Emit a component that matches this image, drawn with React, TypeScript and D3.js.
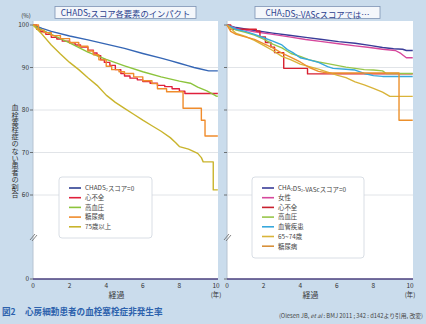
import React from "react";
import * as d3 from "d3";

type Pt = [number, number];

// ---------- data ----------
const yTicks = [100, 90, 80, 70, 60];
const xTicks = [0, 2, 4, 6, 8, 10];

const leftTitle = "CHADS2スコア各要素のインパクト";
const rightTitle = "CHA2DS2-VAScスコアでは…";
const yTitle = "血栓塞栓症のない患者の割合";

const L_score0: Pt[] = [[0,100],[0.5,99.2],[1,98.5],[2,97.4],[3,96.5],[4,95.5],[5,94.5],[6,93.3],[7,92.2],[7.5,91.6],[8,91],[8.5,90.4],[8.8,90],[9.1,89.7],[9.6,89.2],[10.1,89.2]];
const L_heart: Pt[] = [[0,100],[0.2,99],[0.4,98.4],[0.7,97.8],[1,97.1],[1.3,96.7],[1.6,96.2],[2,95.8],[2.3,95.3],[2.6,94.8],[3,94.1],[3.3,93.4],[3.5,92.8],[3.7,91.8],[3.9,91.2],[4.2,90.5],[4.5,89.5],[4.8,88.6],[5,88],[5.3,87.5],[5.7,87.1],[6,86.7],[6.4,86.3],[6.8,85.8],[7.2,85.5],[7.6,85],[8,84.4],[8.3,83.9],[10.1,83.9]];
const L_htn: Pt[] = [[0,100],[0.5,98.8],[1,97.8],[2,95.8],[3,93.6],[4,91.9],[5,90.4],[6,89],[7,87.8],[8,86.8],[8.6,86.3],[9,85.4],[9.5,84.5],[10,83.3],[10.1,83.2]];
const L_dm: Pt[] = [[0,100],[0.3,98.8],[0.6,98.2],[1,97.5],[1.5,96.8],[2,95.9],[2.5,95],[3,93.9],[3.3,93],[3.6,91.8],[4,90.3],[4.3,89.5],[4.7,89],[5,88.6],[5.5,87.8],[6,86.9],[6.5,86.2],[6.8,85],[7.3,84.3],[8.2,80.4],[9.2,77.6],[9.4,73.9],[10.1,73.9]];
const L_age75: Pt[] = [[0,100],[0.5,97.8],[1,95.3],[1.5,93.2],[2,91.2],[2.5,89.5],[3,87.6],[3.5,85.8],[4,83.5],[4.5,81.8],[5,80.4],[5.5,79],[6,77.6],[6.5,76.3],[7,75],[7.5,73.5],[7.8,72.3],[8,71.4],[8.5,70.8],[9,69.8],[9.2,68.8],[9.3,67.8],[9.85,67.8],[9.85,61.2],[10.1,61.2]];

const R_score0: Pt[] = [[0,100],[0.5,99.4],[1.5,98.7],[2.5,98.1],[3.4,97.6],[4.3,97.1],[5.2,96.6],[6.1,96.1],[7,95.7],[7.8,95.2],[8.5,94.7],[9.1,94.4],[9.6,94.3],[9.8,94],[10.15,94]];
const R_female: Pt[] = [[0,100],[0.5,99.2],[1.5,98.4],[2.5,97.8],[3.4,97.2],[4.3,96.6],[5.2,96.1],[6.1,95.6],[7,95.1],[7.8,94.7],[8.5,94.3],[9.2,94],[9.5,93.3],[9.8,92.3],[10.15,92.3]];
const R_heart: Pt[] = [[0,100],[0.2,99],[1.6,98.6],[1.8,97.2],[2.1,95.9],[2.4,94.8],[2.6,93.5],[3.1,89.8],[4.4,88.5],[10.15,88.5]];
const R_htn: Pt[] = [[0,100],[0.5,98.8],[1,98.3],[1.5,97.6],[2,96.7],[2.5,95.5],[3,94.6],[3.5,93.3],[4,92.6],[4.5,91.8],[5,91.3],[5.5,90.9],[6,90.5],[6.5,90.1],[7,89.8],[7.5,89.5],[8,89.4],[8.5,89.2],[8.7,88.6],[10.15,88.6]];
const R_vasc: Pt[] = [[0,100],[0.5,99],[1,98.5],[1.5,97.8],[2,97],[2.5,96.2],[3,95.3],[3.3,94.2],[3.6,93.5],[4,92.3],[4.5,91.8],[5,91.2],[5.5,90.2],[5.8,89.8],[6.5,89.6],[7,89.4],[7.5,88.6],[8,88.1],[8.5,87.9],[10.15,87.9]];
const R_age65: Pt[] = [[0,100],[0.5,98],[1,97.3],[1.5,96.4],[2,95.2],[2.5,94],[3,92.6],[3.5,91.8],[4,90.8],[4.5,90.2],[5,89.6],[5.5,88.9],[6,88.2],[6.5,87.6],[7,86.6],[7.5,85.9],[8,85.1],[8.5,84.2],[8.9,83.2],[10.15,83.2]];
const R_dm: Pt[] = [[0,100],[0.2,98.5],[0.5,97.8],[1,97.2],[1.5,96.6],[2,95.6],[2.5,94.6],[3,93.4],[3.5,92.4],[4,91.3],[4.5,90],[5,89.1],[5.5,88.7],[9.4,88.7],[9.4,77.6],[10.15,77.6]];

const leftLabels = ["CHADS2スコア=0", "心不全", "高血圧", "糖尿病", "75歳以上"];
const rightLabels = ["CHA2DS2-VAScスコア=0", "女性", "心不全", "高血圧", "血管疾患", "65~74歳", "糖尿病"];

const leftSeries = [
  { data: L_score0, color: "#3566b5", legend: "#2e3f92", step: false },
  { data: L_heart, color: "#e0203c", legend: "#e0203c", step: true },
  { data: L_htn, color: "#8cc43c", legend: "#8cc43c", step: false },
  { data: L_dm, color: "#f08c2c", legend: "#f08c2c", step: true },
  { data: L_age75, color: "#c9b42c", legend: "#c9b42c", step: false },
];
const rightSeries = [
  { data: R_score0, color: "#3a3c98", legend: "#3a3c98", step: false },
  { data: R_female, color: "#d6489c", legend: "#d6489c", step: false },
  { data: R_heart, color: "#d82030", legend: "#c8202e", step: true },
  { data: R_htn, color: "#98c64a", legend: "#98c64a", step: false },
  { data: R_vasc, color: "#38a8dc", legend: "#38a8dc", step: false },
  { data: R_age65, color: "#d9b43a", legend: "#d9b43a", step: false },
  { data: R_dm, color: "#ec902c", legend: "#d8903a", step: false },
];

const FONT = "'Noto Sans CJK JP', 'Noto Sans', sans-serif";
const BG = "#cadcec";

// Text with "2" after CHA / DS rendered as subscript
function SubText({ s, fs }: { s: string; fs: number }) {
  const parts: React.ReactNode[] = [];
  const re = /(CHA|DS)2/g;
  let last = 0;
  let m: RegExpExecArray | null;
  let k = 0;
  while ((m = re.exec(s))) {
    const end = m.index + m[1].length;
    parts.push(<tspan key={k++}>{s.slice(last, end)}</tspan>);
    parts.push(
      <tspan key={k++} fontSize={fs * 0.6} dy={fs * 0.15}>2</tspan>
    );
    parts.push(<tspan key={k++} dy={-fs * 0.15}></tspan>);
    last = end + 1;
  }
  parts.push(<tspan key={k++}>{s.slice(last)}</tspan>);
  return <>{parts}</>;
}

function Panel({ x0, x1, series, labels, showYLabels, legendBox }: any) {
  const top = 21, bottom = 279;
  const xs = d3.scaleLinear().domain([0, 10]).range([x0, x0 + 183]);
  const ys = d3.scaleLinear().domain([60, 100]).range([195, 25]);
  const line = d3.line<Pt>().x((d) => xs(d[0])).y((d) => ys(d[1]));
  const stepLine = d3.line<Pt>().x((d) => xs(d[0])).y((d) => ys(d[1])).curve(d3.curveStepAfter);
  const lx = legendBox.x, ly = legendBox.y;
  return (
    <g>
      <rect x={x0} y={top} width={x1 - x0} height={bottom - top} fill="#ffffff" />
      {yTicks.slice(1).map((t) => (
        <line key={t} x1={x0} x2={x1} y1={ys(t)} y2={ys(t)} stroke="#d9dde2" strokeWidth={0.8} />
      ))}
      <line x1={x0} x2={x0} y1={top} y2={bottom} stroke="#b7c4d2" strokeWidth={1} />
      {yTicks.map((t) => (
        <line key={"t" + t} x1={x0 - 3} x2={x0} y1={ys(t)} y2={ys(t)} stroke="#555" strokeWidth={0.8} />
      ))}
      <line x1={x0 - 3} x2={x0} y1={bottom} y2={bottom} stroke="#555" strokeWidth={0.8} />
      {showYLabels && yTicks.map((t) => (
        <text key={"l" + t} x={x0 - 4} y={ys(t) + 2.3} fontSize={6.5} textAnchor="end" fill="#333" fontFamily={FONT}>{t}</text>
      ))}
      {showYLabels && (
        <text x={x0 - 4} y={bottom + 2.3} fontSize={6.5} textAnchor="end" fill="#333" fontFamily={FONT}>0</text>
      )}
      {/* axis break marks */}
      <g stroke="#666" strokeWidth={0.8}>
        <line x1={x0 - 3} y1={240} x2={x0 + 2} y2={234} />
        <line x1={x0 - 1} y1={241} x2={x0 + 4} y2={235} />
      </g>
      {series.map((s: any, i: number) => (
        <path key={i} d={(s.step ? stepLine : line)(s.data) || ""} fill="none" stroke={s.color} strokeWidth={1.4} strokeLinejoin="round" />
      ))}
      <line x1={x0} x2={x1} y1={bottom} y2={bottom} stroke="#4a3f7e" strokeWidth={1.4} />
      {xTicks.map((t) => (
        <text key={"x" + t} x={xs(t)} y={287.5} fontSize={6.5} textAnchor="middle" fill="#333" fontFamily={FONT}>{t}</text>
      ))}
      <text x={xs(10)} y={297} fontSize={6.3} textAnchor="middle" fill="#333" fontFamily={FONT}>(年)</text>
      <text x={xs(5) - 8} y={298} fontSize={8} textAnchor="middle" fill="#333" fontFamily={FONT}>経過</text>
      {/* legend */}
      <rect x={lx} y={ly} width={legendBox.w} height={legendBox.h} rx={3} fill="#ffffff" stroke="#cfd6de" strokeWidth={0.8} />
      {labels.map((lab: string, i: number) => (
        <g key={"lg" + i}>
          <line x1={lx + 10} x2={lx + 22} y1={ly + 11 + i * 9.7} y2={ly + 11 + i * 9.7} stroke={series[i].legend} strokeWidth={1.6} />
          <text x={lx + 26} y={ly + 13.3 + i * 9.7} fontSize={6.4} fill="#444" fontFamily={FONT}>
            <SubText s={lab} fs={6.4} />
          </text>
        </g>
      ))}
    </g>
  );
}

export default function App() {
  return (
    <svg width={426} height={324} style={{ position: "absolute", left: 0, top: 0 }} fontFamily={FONT}>
      <rect x={0} y={0} width={426} height={324} fill={BG} />
      {/* title boxes */}
      <rect x={55} y={6.5} width={141} height={12} fill="#f4f7fb" stroke="#7e93b3" strokeWidth={0.8} />
      <text x={125.5} y={15.8} fontSize={8.3} textAnchor="middle" fill="#2b3f8e" fontFamily={FONT}>
        <SubText s={leftTitle} fs={8.3} />
      </text>
      <rect x={255} y={6.5} width={125} height={12} fill="#f4f7fb" stroke="#7e93b3" strokeWidth={0.8} />
      <text x={317.5} y={15.8} fontSize={8.3} textAnchor="middle" fill="#2b3f8e" fontFamily={FONT}>
        <SubText s={rightTitle} fs={8.3} />
      </text>
      <text x={26} y={18} fontSize={6} textAnchor="middle" fill="#333" fontFamily={FONT}>(%)</text>
      <text x={15} y={104} fontSize={7.2} fill="#333" fontFamily={FONT}
        style={{ writingMode: "vertical-rl", textOrientation: "upright" } as any}>
        {yTitle}
      </text>
      <Panel x0={33} x1={218} series={leftSeries} labels={leftLabels} showYLabels={true}
        legendBox={{ x: 59, y: 177, w: 93, h: 61 }} />
      <Panel x0={227} x1={413} series={rightSeries} labels={rightLabels} showYLabels={false}
        legendBox={{ x: 252, y: 177, w: 112, h: 81 }} />
      <text x={2} y={315} fontSize={8.6} fontWeight="bold" fill="#2d62ad" fontFamily={FONT}>図2</text>
      <text x={25} y={315} fontSize={8.6} fontWeight="bold" fill="#2d62ad" fontFamily={FONT}>心房細動患者の血栓塞栓症非発生率</text>
      <text x={423} y={318} fontSize={5.8} textAnchor="end" fill="#444" fontFamily={FONT}>
        (Olesen JB, <tspan fontStyle="italic">et al</tspan> : BMJ 2011 ; 342 : d142より引用, 改変)
      </text>
    </svg>
  );
}
